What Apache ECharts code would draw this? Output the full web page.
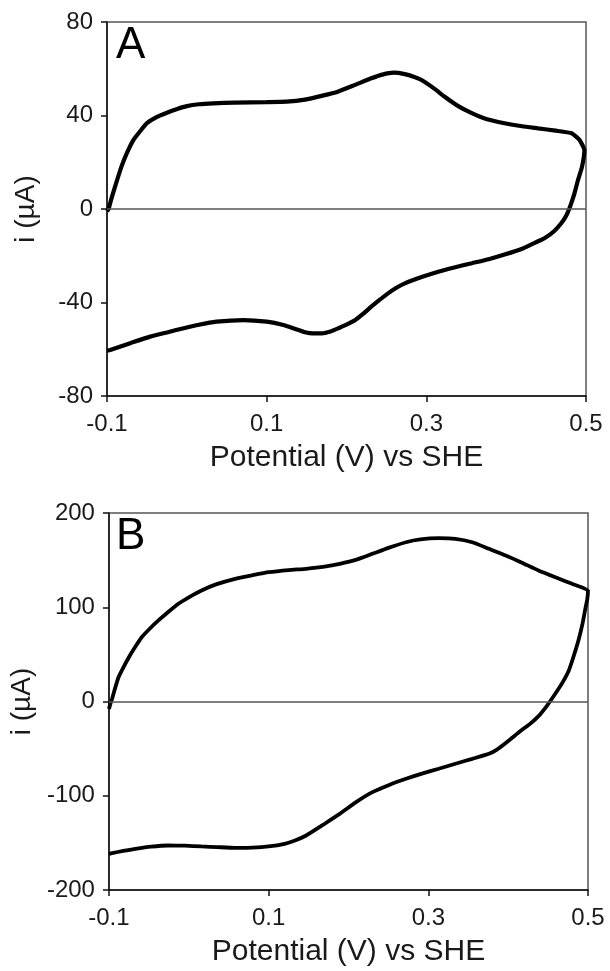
<!DOCTYPE html>
<html>
<head>
<meta charset="utf-8">
<script src="https://cdn.jsdelivr.net/npm/echarts@6/dist/echarts.min.js"></script>
<style>
html,body{margin:0;padding:0;background:#fff;}
#chart{width:610px;height:971px;}
</style>
</head>
<body>
<div id="chart"></div>
<script>
// ---- Data ----
// Panel A: potential (V vs SHE) and current (µA), sweep order
var potentialA = [-0.1,-0.098,-0.094,-0.09,-0.082,-0.075,-0.067,-0.058,-0.05,-0.038,-0.025,-0.012,0.0,0.015,0.033,0.06,0.1,0.125,0.148,0.17,0.189,0.21,0.231,0.245,0.259,0.273,0.285,0.294,0.31,0.323,0.34,0.357,0.375,0.398,0.42,0.44,0.462,0.482,0.492,0.498,
  0.495,0.49,0.485,0.48,0.475,0.469,0.46,0.448,0.44,0.42,0.398,0.378,0.357,0.335,0.315,0.295,0.273,0.262,0.252,0.241,0.231,0.221,0.211,0.2,0.19,0.18,0.169,0.158,0.148,0.135,0.121,0.1,0.071,0.037,0.015,-0.004,-0.025,-0.046,-0.07,-0.096,-0.1];
var currentA = [-1,0,5,9.5,18,24,29.5,33.5,36.7,39.3,41.2,42.8,44,44.8,45.2,45.5,45.7,45.9,46.8,48.5,50.2,53,55.9,57.5,58.3,57.7,56.5,55.2,51.5,48,44,41,38.5,36.7,35.4,34.5,33.5,32.4,29.5,25.2,
  18,12.4,6,1,-3,-6.1,-9.5,-12.5,-13.8,-17,-19.5,-21.5,-23.2,-25,-26.8,-29,-31.8,-33.8,-36.1,-39,-41.8,-44.8,-47.5,-49.5,-51,-52.4,-53.2,-53.2,-52.7,-51.2,-49.6,-48.2,-47.5,-48.2,-49.5,-51,-52.8,-54.6,-57.3,-60.3,-60.6];

// Panel B
var potentialB = [-0.1,-0.098,-0.096,-0.092,-0.088,-0.082,-0.075,-0.067,-0.059,-0.048,-0.038,-0.025,-0.013,0.0,0.016,0.035,0.058,0.08,0.1,0.125,0.147,0.17,0.189,0.21,0.23,0.25,0.272,0.29,0.313,0.334,0.355,0.376,0.397,0.418,0.438,0.46,0.48,0.5,
  0.499,0.497,0.493,0.488,0.482,0.476,0.468,0.459,0.449,0.438,0.427,0.415,0.405,0.397,0.386,0.376,0.355,0.334,0.313,0.292,0.272,0.251,0.23,0.21,0.189,0.168,0.147,0.133,0.12,0.1,0.08,0.058,0.036,0.016,-0.005,-0.026,-0.047,-0.067,-0.082,-0.096,-0.1];
var currentB = [-8,-2,3,15,25.8,36,47,58,68.2,78,86,95.5,103.7,110.5,117.8,124.5,130.2,134,137.2,139.5,140.8,143,146,150.5,156.7,163,169,172,173.3,172.6,169,162,155,147,139,131.5,124.9,117.8,
  108,100,82,64.7,48,32.9,20,8.2,-4,-15.5,-24,-31.5,-38.5,-44,-51,-55.5,-60.8,-66,-71.4,-76.5,-82,-88.5,-96.2,-106.5,-119.2,-131,-142.2,-147.5,-151,-153.8,-155,-155.2,-154.5,-153.8,-153,-152.8,-154,-156.3,-158.5,-160.9,-161.7];

// Axis settings
var xMin = -0.1, xMax = 0.5, xStep = 0.2;
var yA = {min: -80, max: 80, step: 40};
var yB = {min: -200, max: 200, step: 100};
var panelLabels = ['A', 'B'];
var xTitle = 'Potential (V) vs SHE';
var yTitle = 'i (\u00B5A)';

function pairs(xs, ys) { return xs.map(function (x, i) { return [x, ys[i]]; }); }

var FONT = '"Liberation Sans", Arial, sans-serif';
var TXT = '#1a1a1a';

function makeX(gi) {
  return {
    type: 'value', gridIndex: gi, min: xMin, max: xMax, interval: xStep,
    name: xTitle, nameLocation: 'middle', nameGap: 47,
    nameTextStyle: {fontFamily: FONT, fontSize: 30, color: TXT},
    axisLine: {onZero: false, lineStyle: {color: '#111', width: 1.5}},
    axisTick: {show: true, inside: false, length: 6, lineStyle: {color: '#111', width: 1.5}},
    axisLabel: {fontFamily: FONT, fontSize: 24, color: TXT, margin: 16,
      formatter: function (v) { return (Math.round(v * 10) / 10).toFixed(1); }},
    splitLine: {show: false}
  };
}
function makeY(gi, cfg) {
  return {
    type: 'value', gridIndex: gi, min: cfg.min, max: cfg.max, interval: cfg.step,
    name: yTitle, nameLocation: 'middle', nameGap: 67, nameRotate: 90,
    nameTextStyle: {fontFamily: FONT, fontSize: 28, color: TXT},
    axisLine: {onZero: false, lineStyle: {color: '#111', width: 1.5}},
    axisTick: {show: true, inside: false, length: 6, lineStyle: {color: '#111', width: 1.5}},
    axisLabel: {fontFamily: FONT, fontSize: 24, color: TXT, margin: 14},
    splitLine: {show: false}
  };
}
function zeroLine() {
  return {silent: true, symbol: 'none', label: {show: false},
    lineStyle: {color: '#555', width: 1.5, type: 'solid'}, data: [{yAxis: 0}]};
}

var chart = echarts.init(document.getElementById('chart'), null, {renderer: 'canvas'});
chart.setOption({
  animation: false,
  backgroundColor: '#fff',
  title: [
    {text: panelLabels[0], left: 111, top: 19, textStyle: {fontFamily: FONT, fontSize: 44, fontWeight: 'normal', color: '#000'}},
    {text: panelLabels[1], left: 111, top: 510, textStyle: {fontFamily: FONT, fontSize: 44, fontWeight: 'normal', color: '#000'}}
  ],
  grid: [
    {left: 107, top: 22, width: 479, height: 374, show: true, borderColor: '#555', borderWidth: 1.5, backgroundColor: 'transparent'},
    {left: 107, top: 513, width: 481, height: 377, show: true, borderColor: '#555', borderWidth: 1.5, backgroundColor: 'transparent'}
  ],
  xAxis: [makeX(0), makeX(1)],
  yAxis: [makeY(0, yA), makeY(1, yB)],
  series: [
    {type: 'line', xAxisIndex: 0, yAxisIndex: 0, data: pairs(potentialA, currentA),
      showSymbol: false, smooth: 0.15, lineStyle: {color: '#000', width: 4.2}, markLine: zeroLine()},
    {type: 'line', xAxisIndex: 1, yAxisIndex: 1, data: pairs(potentialB, currentB),
      showSymbol: false, smooth: 0.15, lineStyle: {color: '#000', width: 3.8}, markLine: zeroLine()}
  ]
});
</script>
</body>
</html>
